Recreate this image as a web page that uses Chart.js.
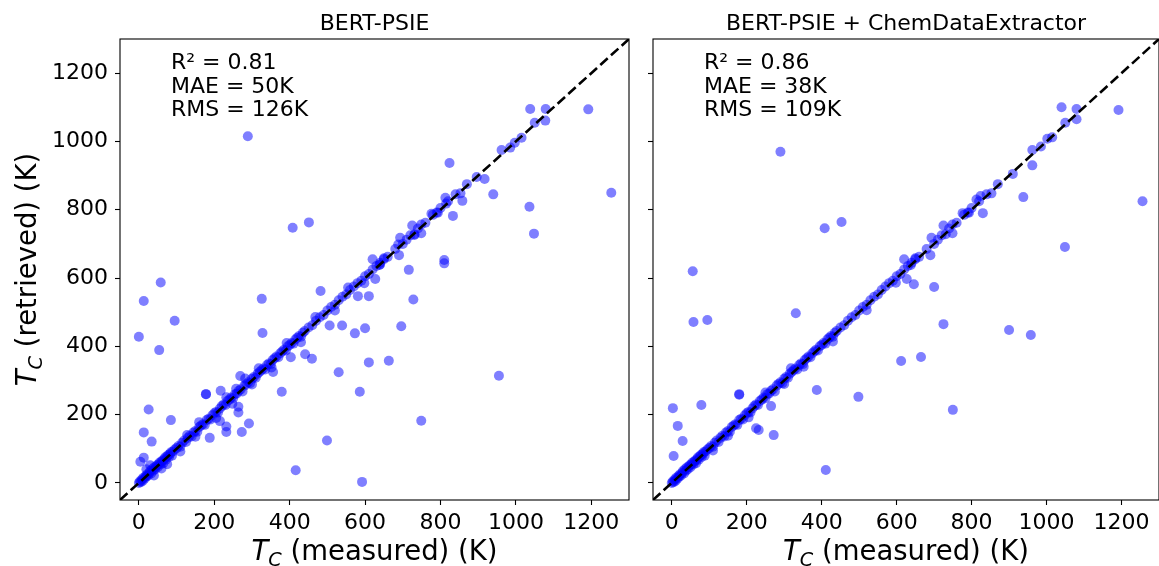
<!DOCTYPE html>
<html><head><meta charset="utf-8">
<script src="https://cdn.jsdelivr.net/npm/chart.js@4.4.1/dist/chart.umd.min.js"></script>
<style>
html,body{margin:0;padding:0;background:#fff;overflow:hidden;width:1159px;height:566px;}
.box{position:absolute;top:0;height:566px;}
</style></head><body>
<div class="box" style="left:0;width:641px"><canvas id="c1"></canvas></div>
<div class="box" style="left:641px;width:523px"><canvas id="c2"></canvas></div>
<script>
// ---------- data ----------
const tickValues = [0, 200, 400, 600, 800, 1000, 1200];
const tickLabels = ["0", "200", "400", "600", "800", "1000", "1200"];
const axisRange = [-50, 1300];
const diagonal = [-50, 1300];
const panelTitles = ["BERT-PSIE", "BERT-PSIE + ChemDataExtractor"];
const psieStats = ["R² = 0.81", "MAE = 50K", "RMS = 126K"];
const cdeStats = ["R² = 0.86", "MAE = 38K", "RMS = 109K"];
const xLabelRest = " (measured) (K)";
const yLabelRest = " (retrieved) (K)";

// BERT-PSIE: [measured, retrieved]
const psiePoints = [
 [289,1015],[408,747],[451,763],[58,587],[13,533],[95,475],[0,428],[54,389],[326,539],[328,439],
 [482,562],[506,461],[539,461],[573,438],[600,453],[610,547],[581,547],[610,353],[530,324],[586,267],
 [379,267],[441,377],[459,364],[499,124],[416,37],[592,3],[178,260],[178,260],[26,215],[85,184],
 [13,148],[34,121],[4,62],[13,74],[188,132],[232,149],[273,149],[292,174],[215,181],[232,165],
 [264,223],[264,206],[217,270],[232,251],[269,313],[282,306],[356,325],[403,368],
 [1038,1095],[1079,1095],[1078,1061],[1192,1094],[824,937],[962,975],[985,982],[997,996],[1015,1011],
 [896,896],[917,890],[940,845],[1253,850],[1036,809],[1048,730],[813,835],[815,818],[853,848],[858,826],
 [833,782],[776,788],[793,791],[725,754],[749,757],[731,726],[731,728],[749,731],[693,718],[688,698],
 [700,700],[690,667],[650,658],[620,655],[810,653],[638,638],[640,640],[716,624],[810,643],[627,597],
 [728,537],[696,459],[663,358],[955,314],[749,182],
 [0,0],[3,5],[5,2],[8,10],[10,6],[12,15],[15,12],[18,20],[20,18],[22,25],[25,22],[28,30],[30,35],
 [33,28],[35,40],[38,36],[40,45],[43,40],[45,48],[48,52],[50,46],[53,55],[55,60],[58,54],[60,62],
 [63,66],[65,58],[68,70],[70,75],[72,68],[75,78],[78,82],[80,76],[83,85],[85,90],[88,80],[90,92],
 [20,40],[40,22],[60,42],[75,55],[30,52],[95,98],[100,102],[105,108],[110,106],[115,118],[120,124],
 [125,120],[130,132],[135,138],[140,136],[145,148],[150,152],[155,150],[160,164],[165,168],[170,172],
 [175,170],[180,184],[185,188],[190,186],[195,198],[200,204],[205,208],[210,206],[215,218],[220,225],
 [225,230],[230,228],[235,240],[240,244],[245,250],[250,248],[255,260],[260,262],[265,270],[270,274],
 [275,268],[280,285],[285,290],[290,295],[295,292],[300,305],[305,310],[310,308],[315,320],[320,325],
 [325,330],[330,335],[335,332],[340,345],[345,350],[350,348],[355,360],[360,365],[365,370],[370,368],
 [375,380],[380,385],[385,390],[390,388],[395,400],[400,404],[405,410],[410,408],[415,420],[420,425],
 [425,430],[430,428],[435,440],[440,445],[450,455],[460,462],[470,475],[480,485],[490,492],[500,505],
 [510,515],[520,522],[530,535],[540,545],[550,552],[560,565],[570,575],[580,585],[590,592],[600,605],
 [610,612],[620,625],[630,635],[640,645],[650,655],[660,662],[680,685],[710,712],[720,725],[740,745],
 [760,762],[780,785],[790,792],[800,805],[820,825],[840,845],[870,875],[1050,1055],
 [110,92],[128,140],[150,135],[160,178],[205,190],[248,232],[258,276],[300,288],[318,336],[352,338],
 [392,410],[430,412],[468,486],[520,505],[555,572],[598,585]
];

// BERT-PSIE + ChemDataExtractor: [measured, retrieved]
const cdePoints = [
 [290,970],[408,746],[453,764],[1040,1100],[1080,1095],[1080,1065],[1192,1092],[1256,825],[938,837],
 [962,930],[1049,691],[900,448],[958,433],[387,272],[498,252],[612,357],[665,369],[725,465],[750,214],
 [700,574],[646,582],[331,497],[232,155],[56,620],[58,471],[95,477],[3,219],[16,167],[29,123],[5,79],
 [79,228],[411,38],[265,225],[272,140],[225,160],[180,260],[180,258],
 [1002,1008],[1015,1012],[985,985],[962,975],[910,905],[824,840],[830,790],[813,830],[853,848],
 [776,790],[793,791],[725,754],[749,757],[731,728],[749,731],[693,718],[700,700],[690,667],[650,658],
 [620,655],[638,638],[627,597],
 [0,0],[3,5],[5,2],[8,10],[10,6],[12,15],[15,12],[18,20],[20,18],[22,25],[25,22],[28,30],[30,35],
 [33,28],[35,40],[38,36],[40,45],[43,40],[45,48],[48,52],[50,46],[53,55],[55,60],[58,54],[60,62],
 [63,66],[65,58],[68,70],[70,75],[72,68],[75,78],[78,82],[80,76],[83,85],[85,90],[88,80],[90,92],
 [95,98],[100,102],[105,108],[110,106],[115,118],[120,124],[125,120],[130,132],[135,138],[140,136],
 [145,148],[150,152],[155,150],[160,164],[165,168],[170,172],[175,170],[180,184],[185,188],[190,186],
 [195,198],[200,204],[205,208],[210,206],[215,218],[220,225],[225,230],[230,228],[235,240],[240,244],
 [245,250],[250,248],[255,260],[260,262],[265,270],[270,274],[275,268],[280,285],[285,290],[290,295],
 [295,292],[300,305],[305,310],[310,308],[315,320],[320,325],[325,330],[330,335],[335,332],[340,345],
 [345,350],[350,348],[355,360],[360,365],[365,370],[370,368],[375,380],[380,385],[385,390],[390,388],
 [395,400],[400,404],[405,410],[410,408],[415,420],[420,425],[425,430],[430,428],[435,440],[440,445],
 [450,455],[460,462],[470,475],[480,485],[490,492],[500,505],[510,515],[520,522],[530,535],[540,545],
 [550,552],[560,565],[570,575],[580,585],[590,592],[600,605],[610,612],[620,625],[630,635],[640,645],
 [650,655],[660,662],[680,685],[710,712],[720,725],[740,745],[760,762],[780,785],[790,792],[800,805],
 [820,825],[840,845],[870,875],[1050,1055],
 [110,95],[150,138],[205,192],[250,265],[300,290],[318,336],[352,340],[430,414],[520,506],[598,586]
];

// ---------- drawing ----------
const FONT = '"DejaVu Sans", "Liberation Sans", sans-serif';

function drawTLabel(ctx, cx, baseline, rest, size) {
  const fI = `italic ${size}px ${FONT}`;
  const fS = `italic ${(size*0.7).toFixed(1)}px ${FONT}`;
  const fR = `${size}px ${FONT}`;
  ctx.font = fI; const wT = ctx.measureText('T').width;
  ctx.font = fS; const wC = ctx.measureText('C').width;
  ctx.font = fR; const wR = ctx.measureText(rest).width;
  let x = cx - (wT + wC + wR) / 2;
  ctx.textAlign = 'left'; ctx.textBaseline = 'alphabetic'; ctx.fillStyle = '#000';
  ctx.font = fI; ctx.fillText('T', x, baseline); x += wT;
  ctx.font = fS; ctx.fillText('C', x, baseline + size*0.2); x += wC;
  ctx.font = fR; ctx.fillText(rest, x, baseline);
}

function makeChart(id, points, title, stats, isLeft) {
  const deco = {
    id: 'deco' + id,
    afterDraw(chart) {
      const ctx = chart.ctx, ca = chart.chartArea;
      ctx.save();
      ctx.strokeStyle = '#000'; ctx.lineWidth = 1.1;
      ctx.strokeRect(ca.left, ca.top, ca.right - ca.left, ca.bottom - ca.top);
      const cx = (ca.left + ca.right) / 2;
      ctx.fillStyle = '#000';
      ctx.font = `22px ${FONT}`; ctx.textAlign = 'center'; ctx.textBaseline = 'alphabetic';
      ctx.fillText(title, cx, 30);
      ctx.textAlign = 'left';
      stats.forEach((s, i) => ctx.fillText(s, ca.left + 51, 69 + i * 23.5));
      drawTLabel(ctx, cx, 560, xLabelRest, 27.5);
      if (isLeft) {
        ctx.translate(36, (ca.top + ca.bottom) / 2);
        ctx.rotate(-Math.PI / 2);
        drawTLabel(ctx, 0, 0, yLabelRest, 27.5);
      }
      ctx.restore();
    }
  };
  const labelFor = v => { const i = tickValues.indexOf(v); return i >= 0 ? tickLabels[i] : ''; };
  const tickOpts = (show) => ({
    display: show, color: '#000', font: { family: FONT, size: 22 }, padding: show ? 5 : 0,
    autoSkip: false, maxRotation: 0, callback: labelFor
  });
  const grid = { display: true, drawOnChartArea: false, drawTicks: true, tickLength: 5, tickWidth: 1.1, tickColor: '#000' };
  return new Chart(document.getElementById(id), {
    type: 'scatter',
    data: {
      datasets: [
        { type: 'line', data: diagonal.map(v => ({ x: v, y: v })), borderColor: '#000', borderWidth: 2.6,
          borderDash: [10, 4.4], pointRadius: 0, fill: false, order: 0 },
        { data: points.map(p => ({ x: p[0], y: p[1] })), backgroundColor: 'rgba(0,0,255,0.5)',
          borderWidth: 0, pointRadius: 5, pointHoverRadius: 5, order: 1 }
      ]
    },
    options: {
      responsive: true, maintainAspectRatio: false, animation: false,
      layout: { padding: { top: 39, right: isLeft ? 12 : 2, bottom: 0, left: 0 } },
      plugins: { legend: { display: false }, tooltip: { enabled: false }, title: { display: false } },
      scales: {
        x: { type: 'linear', min: axisRange[0], max: axisRange[1],
             afterBuildTicks: s => { s.ticks = tickValues.map(v => ({ value: v })); },
             afterFit: s => { s.height = 66; },
             ticks: tickOpts(true), grid: grid, border: { display: false } },
        y: { type: 'linear', min: axisRange[0], max: axisRange[1],
             afterBuildTicks: s => { s.ticks = tickValues.map(v => ({ value: v })); },
             afterFit: s => { s.width = isLeft ? 120 : 12; },
             ticks: Object.assign(tickOpts(isLeft), isLeft ? { padding: 7 } : {}), grid: grid, border: { display: false } }
      }
    },
    plugins: [deco]
  });
}

makeChart('c1', psiePoints, panelTitles[0], psieStats, true);
makeChart('c2', cdePoints, panelTitles[1], cdeStats, false);
</script>
</body></html>
